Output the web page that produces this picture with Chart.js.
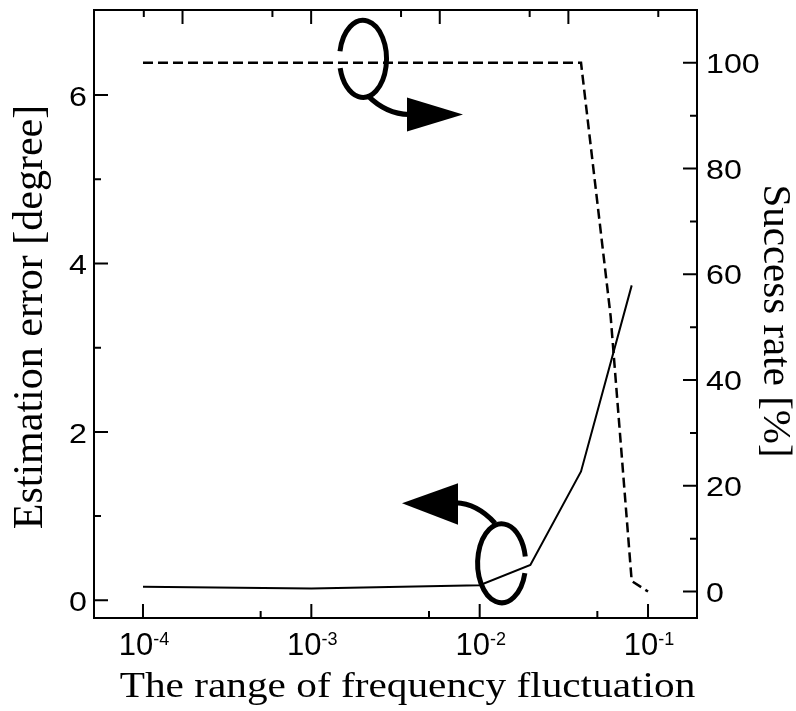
<!DOCTYPE html>
<html>
<head>
<meta charset="utf-8">
<script src="https://cdn.jsdelivr.net/npm/chart.js@4.4.0/dist/chart.umd.min.js"></script>
<style>
  html, body { margin: 0; padding: 0; background: #fff; }
  #wrap { width: 796px; height: 711px; position: relative; }
</style>
</head>
<body>
<div id="wrap"><canvas id="chart"></canvas></div>
<script>
// estimation error (left axis, solid)
const errFreq = [1e-4, 1e-3, 1e-2, 2e-2, 4e-2, 8e-2];
const errDeg = [0.16, 0.14, 0.18, 0.42, 1.53, 3.74];

// success rate (right axis, dashed)
const rateFreq = [1e-4, 1e-3, 1e-2, 2e-2, 4e-2, 6e-2, 8e-2, 1e-1];
const ratePct = [100, 100, 100, 100, 100, 52, 2, 0];

// ticks
const xMajor = [1e-4, 1e-3, 1e-2, 1e-1];
const xExp = ["-4", "-3", "-2", "-1"];
const xMinor = [5e-4, 5e-3, 5e-2];
const topMajor = [1e-4, 1e-3, 1e-2, 1e-1];
const topMinor = [5e-5, 5e-4, 5e-3, 5e-2, 5e-1];
const leftMajor = [0, 2, 4, 6];
const leftMinor = [1, 3, 5];
const rightMajor = [0, 20, 40, 60, 80, 100];
const rightMinor = [10, 30, 50, 70, 90];

const xTitle = "The range of frequency fluctuation";
const yLeftTitle = "Estimation error [degree]";
const yRightTitle = "Success rate [%]";

const pts = (xs, ys) => xs.map((x, i) => ({ x, y: ys[i] }));

function stretched(ctx, text, x, y, sx, align) {
  ctx.save();
  ctx.translate(x, y);
  ctx.scale(sx, 1);
  ctx.textAlign = align;
  ctx.fillText(text, 0, 0);
  ctx.restore();
}

function marks(ctx, scale, values, len, side, a) {
  ctx.beginPath();
  values.forEach(v => {
    const p = scale.getPixelForValue(v);
    if (side === "left") { ctx.moveTo(a.left, p); ctx.lineTo(a.left + len, p); }
    if (side === "right") { ctx.moveTo(a.right, p); ctx.lineTo(a.right - len, p); }
    if (side === "bottom") { ctx.moveTo(p, a.bottom); ctx.lineTo(p, a.bottom - len); }
    if (side === "top") { ctx.moveTo(p, a.top); ctx.lineTo(p, a.top + len); }
  });
  ctx.stroke();
}

function loop(ctx, cx, cy, rx, ry, from, to) {
  ctx.beginPath();
  ctx.ellipse(cx, cy, rx, ry, 0, from, to);
  ctx.stroke();
}

const frame = {
  id: "frame",
  afterDatasetsDraw(chart) {
    const { ctx, chartArea: a, scales } = chart;
    const x = scales.x, top = scales.xTop, yL = scales.yL, yR = scales.yR;
    ctx.save();
    ctx.strokeStyle = "#000";
    ctx.fillStyle = "#000";
    ctx.lineWidth = 2;
    ctx.lineCap = "butt";
    ctx.strokeRect(a.left, a.top, a.right - a.left, a.bottom - a.top);

    marks(ctx, x, xMajor, 14, "bottom", a);
    marks(ctx, x, xMinor, 7, "bottom", a);
    marks(ctx, top, topMajor, 14, "top", a);
    marks(ctx, top, topMinor, 7, "top", a);
    marks(ctx, yL, leftMajor, 14, "left", a);
    marks(ctx, yL, leftMinor, 7, "left", a);
    marks(ctx, yR, rightMajor, 14, "right", a);
    marks(ctx, yR, rightMinor, 7, "right", a);

    // tick labels
    ctx.textBaseline = "alphabetic";
    ctx.font = "28px 'Liberation Sans', Arial, sans-serif";
    leftMajor.forEach(v => {
      stretched(ctx, String(v), a.left - 7, yL.getPixelForValue(v) + 11, 1.15, "right");
    });
    rightMajor.forEach(v => {
      stretched(ctx, String(v), a.right + 9, yR.getPixelForValue(v) + 10, 1.15, "left");
    });
    xMajor.forEach((v, i) => {
      const p = x.getPixelForValue(v);
      ctx.font = "31px 'Liberation Sans', Arial, sans-serif";
      const w1 = ctx.measureText("10").width;
      ctx.font = "18px 'Liberation Sans', Arial, sans-serif";
      const w2 = ctx.measureText(xExp[i]).width;
      const start = p - (w1 + w2) / 2 + 1;
      ctx.textAlign = "left";
      ctx.font = "31px 'Liberation Sans', Arial, sans-serif";
      ctx.fillText("10", start, a.bottom + 37);
      ctx.font = "18px 'Liberation Sans', Arial, sans-serif";
      ctx.fillText(xExp[i], start + w1, a.bottom + 27);
    });

    // axis titles
    ctx.font = "35px 'Liberation Serif', 'Times New Roman', serif";
    stretched(ctx, xTitle, (a.left + a.right) / 2 + 12, a.bottom + 79, 1.18, "center");

    ctx.font = "42px 'Liberation Serif', 'Times New Roman', serif";
    ctx.textAlign = "center";
    ctx.save();
    ctx.translate(42, (a.top + a.bottom) / 2 + 3);
    ctx.rotate(-Math.PI / 2);
    ctx.fillText(yLeftTitle, 0, 0);
    ctx.restore();

    ctx.font = "41px 'Liberation Serif', 'Times New Roman', serif";
    ctx.save();
    ctx.translate(764, (a.top + a.bottom) / 2 + 7);
    ctx.rotate(Math.PI / 2);
    ctx.fillText(yRightTitle, 0, 0);
    ctx.restore();

    // loop arrows pointing to each series' axis
    ctx.lineWidth = 5;
    let ax = x.getPixelForValue(2e-3), ay = yR.getPixelForValue(100);
    loop(ctx, ax + 1, ay - 4, 23.5, 38.5, Math.PI + 0.2, 3 * Math.PI - 0.24);
    ctx.beginPath();
    ctx.moveTo(ax + 6, ay + 33);
    ctx.quadraticCurveTo(ax + 24, ay + 51, ax + 47, ay + 51.7);
    ctx.stroke();
    ctx.beginPath();
    ctx.moveTo(ax + 45, ay + 34.7);
    ctx.lineTo(ax + 101, ay + 51.7);
    ctx.lineTo(ax + 45, ay + 68.7);
    ctx.closePath();
    ctx.fill();

    ax = x.getPixelForValue(1.35e-2); ay = yL.getPixelForValue(0.44);
    loop(ctx, ax, ay, 24, 39.5, 0.25, 2 * Math.PI - 0.17);
    ctx.beginPath();
    ctx.moveTo(ax - 6.6, ay - 40);
    ctx.quadraticCurveTo(ax - 24.7, ay - 59.8, ax - 46, ay - 60.4);
    ctx.stroke();
    ctx.beginPath();
    ctx.moveTo(ax - 43.6, ay - 80.1);
    ctx.lineTo(ax - 99.6, ay - 60.1);
    ctx.lineTo(ax - 43.6, ay - 38.4);
    ctx.closePath();
    ctx.fill();

    ctx.restore();
  }
};

new Chart(document.getElementById("chart"), {
  type: "line",
  data: {
    datasets: [
      {
        data: pts(errFreq, errDeg), yAxisID: "yL",
        borderColor: "#000", borderWidth: 2, pointRadius: 0, tension: 0,
      },
      {
        data: pts(rateFreq, ratePct), yAxisID: "yR",
        borderColor: "#000", borderWidth: 2.5, borderDash: [10, 5], pointRadius: 0, tension: 0,
      },
    ],
  },
  options: {
    responsive: true,
    maintainAspectRatio: false,
    devicePixelRatio: 1,
    animation: false,
    layout: { padding: { left: 94, top: 10, right: 99, bottom: 93 } },
    plugins: { legend: { display: false }, tooltip: { enabled: false } },
    scales: {
      x: { type: "logarithmic", min: 5.117e-5, max: 0.1954, display: false },
      xTop: { type: "logarithmic", position: "top", min: 2.05e-5, max: 1, display: false },
      yL: { type: "linear", position: "left", min: -0.21, max: 7.01, display: false },
      yR: { type: "linear", position: "right", min: -5, max: 110, display: false },
    },
  },
  plugins: [frame],
});
</script>
</body>
</html>
